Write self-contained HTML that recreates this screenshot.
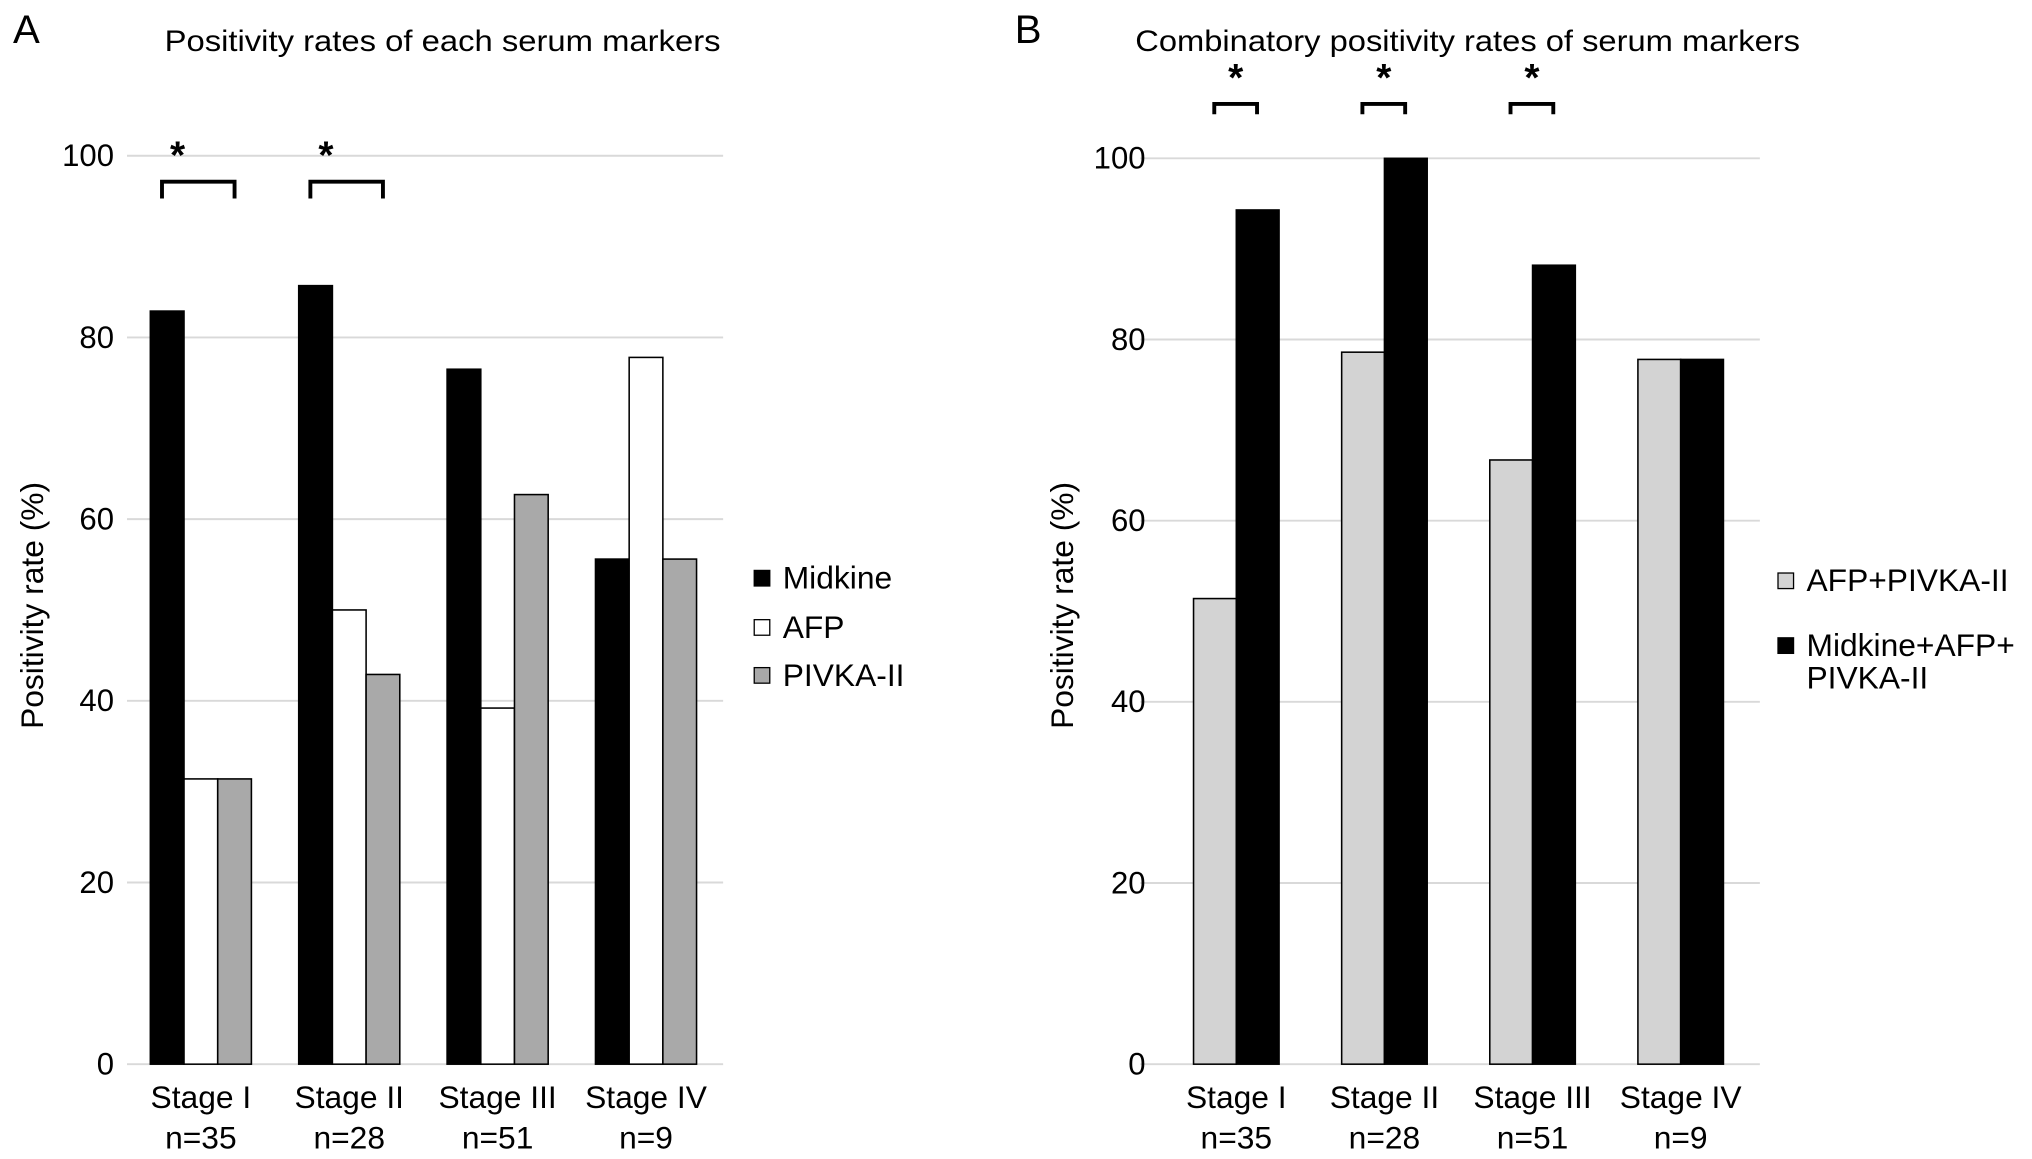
<!DOCTYPE html>
<html><head><meta charset="utf-8"><style>
html,body{margin:0;padding:0;background:#fff;}
svg{display:block;font-family:"Liberation Sans",Arial,sans-serif;}
</style></head><body>
<svg id="chart" width="2032" height="1159" viewBox="0 0 1568 894">
<text x="10" y="33" font-size="31">A</text>
<text x="127" y="39" font-size="23" textLength="429" lengthAdjust="spacingAndGlyphs">Positivity rates of each serum markers</text>
<text x="783" y="33" font-size="31">B</text>
<text x="876" y="39" font-size="23" textLength="513" lengthAdjust="spacingAndGlyphs">Combinatory positivity rates of serum markers</text>
<g id="pa"></g>
<g id="pb"></g>
</svg>
<script>
const categories = ["Stage I","Stage II","Stage III","Stage IV"];
const nLabels = ["n=35","n=28","n=51","n=9"];
const yTicks = [0,20,40,60,80,100];
const midkine = [82.9,85.7,76.5,55.6];
const afp = [31.4,50.0,39.2,77.8];
const pivka = [31.4,42.9,62.7,55.6];
const afpPivka = [51.4,78.6,66.7,77.8];
const combined = [94.3,100,88.2,77.8];
const sigA = [true,true,false,false];
const sigB = [true,true,true,false];

const NS="http://www.w3.org/2000/svg";
function mk(parent,tag,attrs,text){const e=document.createElementNS(NS,tag);for(const k in attrs)e.setAttribute(k,attrs[k]);if(text!==undefined)e.textContent=text;parent.appendChild(e);return e;}

function panel(g,cfg){
  const y=v=>cfg.y0-(cfg.y0-cfg.y100)*v/100;
  const xc=i=>cfg.c0+i*cfg.step;
  yTicks.forEach(t=>{
    const l=mk(g,'line',{x1:cfg.gx0,x2:cfg.gx1,y1:y(t),y2:y(t),stroke:'#d9d9d9','stroke-width':1.5});
    
    
    const tx=mk(g,'text',{x:cfg.tickX,y:y(t)+8,'font-size':24,'text-anchor':'end'},t);
    
    
  });
  const yt=mk(g,'text',{transform:`translate(${cfg.ytx},467) rotate(-90)`,'font-size':24.5,'text-anchor':'middle'},'Positivity rate (%)');
  
  
  const ns=cfg.series.length, gw=cfg.bw*ns;
  categories.forEach((c,i)=>{
    cfg.series.forEach((s,j)=>{
      const v=s.data[i];
      const r=mk(g,'rect',{x:xc(i)-gw/2+j*cfg.bw,y:y(v),width:cfg.bw,height:y(0)-y(v),fill:s.color,stroke:'#000','stroke-width':1.2});
      
      
    });
    const t1=mk(g,'text',{x:xc(i),y:855,'font-size':24.5,'text-anchor':'middle'},c);
    
    
    const t2=mk(g,'text',{x:xc(i),y:886,'font-size':24.5,'text-anchor':'middle'},nLabels[i]);
    
    
    if(cfg.sig[i]){
      const a=xc(i)-gw/2+cfg.bo, b=a+cfg.bl;
      const p=mk(g,'path',{d:`M${a} ${cfg.bb}V${cfg.bt}H${b}V${cfg.bb}`,fill:'none',stroke:'#000','stroke-width':3});
      
      
      const st=mk(g,'text',{x:cfg.starDx?(a+b)/2:a+12,y:cfg.bt-10,'font-size':30,'font-weight':'bold','text-anchor':'middle'},'*');
      
      
    }
  });
  cfg.legend.forEach((L,k)=>{
    const r=mk(g,'rect',{x:cfg.lx,y:L.y-6,width:12,height:12,fill:L.color,stroke:'#000','stroke-width':1});
    
    
    const t=mk(g,'text',{x:cfg.lx+22,y:L.y+8,'font-size':24.5});
    
    
    L.lines.forEach((ln,m)=>mk(t,'tspan',{x:cfg.lx+22,dy:m?25:0},ln));
  });
}
panel(document.getElementById('pa'),{y0:821,y100:120,gx0:98,gx1:558,tickX:88,ytx:33,c0:155,step:114.5,bw:26,
  series:[{key:'midkine',data:midkine,color:'#000'},{key:'afp',data:afp,color:'#fff'},{key:'pivka',data:pivka,color:'#a9a9a9'}],
  sig:sigA,bo:9,bl:56,bt:140,bb:153,starDx:false,lx:582,
  legend:[{key:'midkine',color:'#000',y:446,lines:['Midkine']},{key:'afp',color:'#fff',y:484,lines:['AFP']},{key:'pivka',color:'#a9a9a9',y:521,lines:['PIVKA-II']}]});
panel(document.getElementById('pb'),{y0:821,y100:122,gx0:880,gx1:1358,tickX:884,ytx:828,c0:954,step:114.3,bw:33,
  series:[{key:'afp-pivka',data:afpPivka,color:'#d3d3d3'},{key:'midkine-afp-pivka',data:combined,color:'#000'}],
  sig:sigB,bo:16,bl:33,bt:80,bb:88,starDx:true,lx:1372,
  legend:[{key:'afp-pivka',color:'#d3d3d3',y:448,lines:['AFP+PIVKA-II']},{key:'midkine-afp-pivka',color:'#000',y:498,lines:['Midkine+AFP+','PIVKA-II']}]});
</script>
</body></html>
